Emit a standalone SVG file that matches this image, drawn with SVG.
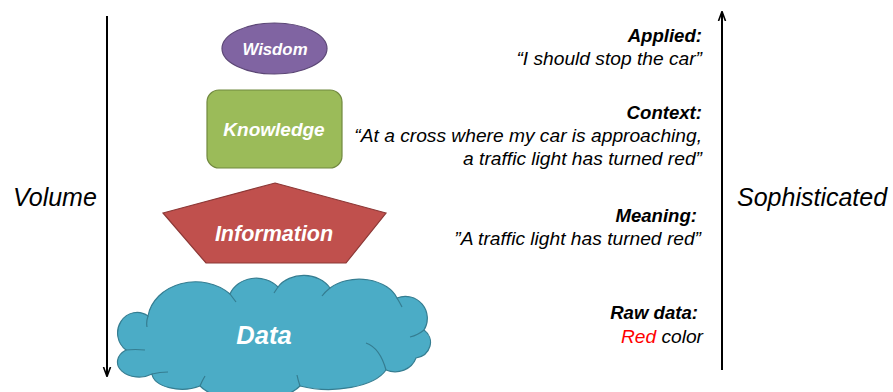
<svg xmlns="http://www.w3.org/2000/svg" width="893" height="392" viewBox="0 0 893 392">
<style>
text{font-family:"Liberation Sans",Arial,sans-serif;font-style:italic}
.node{font-weight:bold;fill:#fff;text-anchor:middle}
.lbl{font-size:19.2px;fill:#000;text-anchor:end}
.b{font-weight:bold;font-size:18.6px}
.side{font-size:25px;fill:#000}
.axis{stroke:#000;stroke-width:2;fill:none}
</style>
<defs>
<marker id="ah" viewBox="0 0 10 10" refX="9" refY="5" markerWidth="10" markerHeight="10" markerUnits="userSpaceOnUse" orient="auto">
<path d="M0,1.5 L9.5,5 L0,8.5" fill="none" stroke="#000" stroke-width="1.6"/>
</marker>
</defs>
<rect width="893" height="392" fill="#fff"/>
<g id="connectors">
<line class="axis" x1="107" y1="16" x2="107" y2="376" marker-end="url(#ah)"/>
<line class="axis" x1="722" y1="370" x2="722" y2="12" marker-end="url(#ah)"/>
</g>
<g id="wisdom">
<ellipse cx="274.5" cy="48.5" rx="52.5" ry="25.5" fill="#8064A2" stroke="#5C4776" stroke-width="1.2"/>
<text class="node" x="275" y="55" font-size="16.8">Wisdom</text>
</g>
<g id="knowledge">
<rect x="207" y="90" width="135" height="78" rx="12" fill="#9BBB59" stroke="#71893F" stroke-width="1.2"/>
<text class="node" x="274" y="136" font-size="19">Knowledge</text>
</g>
<g id="information">
<polygon points="275,183 386,213 346,263 206,263 163,213" fill="#C0504D" stroke="#8C3836" stroke-width="1.2"/>
<text class="node" x="274" y="241" font-size="21.5">Information</text>
</g>
<g id="data">
<path d="M126,350 A16,17 0 0 1 148,316 A48,40 0 0 1 230,294 A28,24 0 0 1 278,287 A30,24 0 0 1 330,288 A40,28 0 0 1 397,298 A22,22 0 0 1 424,330 A18,16 0 0 1 416,358 A22,20 0 0 1 386,370 A60,28 0 0 1 300,386 A55,26 0 0 1 200,386 A30,16 0 0 1 152,374 A20,14 0 0 1 126,350 Z" fill="#4BACC6" stroke="#357D91" stroke-width="1.2"/>
<path d="M148,316 Q146,322 147,327 M126,350 Q135,349 145,350 M230,294 Q233,298 236,302 M278,287 Q276,290 274,293 M330,288 Q325,292 322,296 M397,298 Q400,303 402,307 M424,330 Q418,335 410,337 M366,343 Q380,348 386,370 M300,386 Q298,380 297,375 M200,386 Q202,381 205,376 M152,374 Q160,372 168,372" fill="none" stroke="#357D91" stroke-width="1.2"/>
<text class="node" x="264" y="344" font-size="25.5">Data</text>
</g>
<g id="labels">
<text class="side" x="13" y="206">Volume</text>
<text class="side" x="737" y="206">Sophisticated</text>
<text class="lbl b" x="702" y="42">Applied:</text>
<text class="lbl" x="702" y="65">“I should stop the car”</text>
<text class="lbl b" x="702" y="119">Context:</text>
<text class="lbl" x="702" y="142">“At a cross where my car is approaching,</text>
<text class="lbl" x="702" y="165">a traffic light has turned red”</text>
<text class="lbl b" x="697" y="222">Meaning:</text>
<text class="lbl" x="701" y="245">”A traffic light has turned red”</text>
<text class="lbl b" x="698" y="319">Raw data:</text>
<text class="lbl" x="703" y="343"><tspan fill="#FF0000">Red</tspan> color</text>
</g>
</svg>
